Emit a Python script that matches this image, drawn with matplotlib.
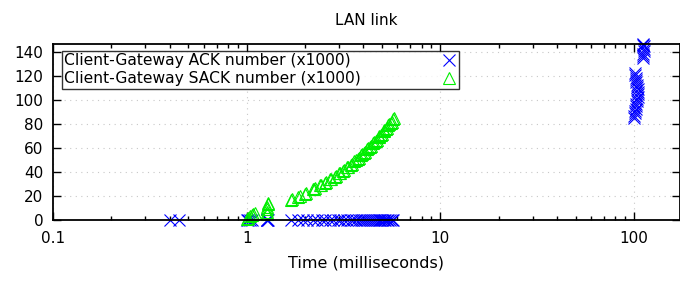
# -*- coding: utf-8 -*-

# LAN link: ACK / SACK numbers vs time (log x)

import numpy as np
import matplotlib
matplotlib.use("Agg")
import matplotlib.pyplot as plt
from matplotlib.ticker import LogLocator, FixedLocator, NullFormatter

# ACK numbers (x1000) vs time (ms)
ack_t = [0.40, 0.45, 1.00, 1.02, 1.04, 1.06, 1.27, 1.275, 1.28, 1.29,
         1.70, 1.85, 1.95, 2.05, 2.2, 2.3, 2.45, 2.55, 2.7, 2.8, 2.95,
         3.05, 3.2, 3.3, 3.45, 3.55, 3.65, 3.8, 3.9, 4.0, 4.1, 4.2, 4.3,
         4.4, 4.5, 4.6, 4.7, 4.8, 4.9, 5.0, 5.1, 5.2, 5.3, 5.4, 5.5, 5.6, 5.7,
         100, 100.5, 101, 101.5, 102, 102.5, 103, 103.5, 104, 104.5,
         105, 105, 104.5, 104, 103.5, 103, 102.5, 102, 101.5, 101,
         111, 111.5, 112, 112.5, 113, 112.5, 112, 111.5]
ack_v = [0, 0, 0, 0, 0, 0, 0, 0, 0, 0,
         0, 0, 0, 0, 0, 0, 0, 0, 0, 0, 0,
         0, 0, 0, 0, 0, 0, 0, 0, 0, 0, 0, 0,
         0, 0, 0, 0, 0, 0, 0, 0, 0, 0, 0, 0, 0, 0,
         85, 87, 89, 91, 93, 95, 97, 99, 101, 103,
         105, 107, 109, 111, 113, 115, 117, 119, 121, 123,
         135, 137, 139, 141, 143, 145, 147, 146]

# SACK numbers (x1000) vs time (ms)
sack_t = [1.00, 1.02, 1.04, 1.06, 1.08, 1.10,
          1.27, 1.27, 1.28, 1.28, 1.29, 1.29,
          1.70, 1.72, 1.85, 1.88, 2.0, 2.02, 2.2, 2.22, 2.25, 2.4, 2.42,
          2.55, 2.58, 2.7, 2.72, 2.85, 2.88, 3.0, 3.03, 3.15, 3.2, 3.3, 3.35,
          3.45, 3.5, 3.6, 3.65, 3.75, 3.8, 3.9, 3.95, 4.05, 4.1, 4.2, 4.25,
          4.35, 4.4, 4.5, 4.55, 4.65, 4.7, 4.8, 4.85, 4.95, 5.0, 5.1, 5.15,
          5.25, 5.3, 5.4, 5.45, 5.55, 5.6, 5.7, 5.75]
sack_v = [1, 2, 3, 4, 5, 6,
          5, 7, 9, 11, 13, 14,
          17, 17.5, 19.5, 20, 22, 22.5, 25.5, 26, 27, 29, 29.5,
          31, 32, 34, 34, 36, 37, 39, 39.5, 41, 42, 44, 44.5,
          46, 47, 49, 50, 51, 52, 54, 55, 56, 57, 59, 60,
          61, 62, 64, 65, 66, 67, 69, 70, 71, 72, 74, 75,
          76, 77, 79, 80, 81, 82, 84, 85]

y_ticks = [0, 20, 40, 60, 80, 100, 120, 140]
x_ticks = [0.1, 1, 10, 100]
x_labels = ["0.1", "1", "10", "100"]

plt.rcParams['font.family'] = ['DejaVu Sans']

fig = plt.figure(figsize=(6.8, 2.82), dpi=100)
ax = fig.add_axes([53 / 680, 62 / 282, 627 / 680, 176 / 282])

ax.plot(ack_t, ack_v, linestyle='none', marker='x', color='#0000ff',
        markersize=8, markeredgewidth=0.8, clip_on=False,
        label='Client-Gateway ACK number (x1000)')
ax.plot(sack_t, sack_v, linestyle='none', marker='^', color='#00ee00',
        markerfacecolor='none', markersize=8.5, markeredgewidth=0.8,
        clip_on=False, label='Client-Gateway SACK number (x1000)')

ax.set_xscale('log')
ax.set_xlim(0.1, 173)
ax.set_ylim(0, 147)
ax.xaxis.set_major_locator(FixedLocator(x_ticks))
ax.set_xticklabels(x_labels)
ax.xaxis.set_minor_locator(LogLocator(base=10, subs=np.arange(2, 10)))
ax.xaxis.set_minor_formatter(NullFormatter())
ax.set_yticks(y_ticks)

ax.tick_params(which='both', direction='in', top=True, right=True,
               labelsize=11, colors='black')
ax.tick_params(which='major', length=5.5, width=1)
ax.tick_params(which='minor', length=3, width=1)
ax.tick_params(axis='x', pad=8)
ax.tick_params(axis='y', pad=7)

ax.grid(True, which='major', color='#c8c8c8', linestyle=(0, (1, 4)),
        linewidth=0.8)
for s in ax.spines.values():
    s.set_linewidth(1.3)

ax.set_xlabel('Time (milliseconds)', fontsize=11.5, labelpad=7)
ax.set_title('LAN link', fontsize=11, pad=14)

leg = ax.legend(loc='upper left', bbox_to_anchor=(9 / 627, 1 - 7 / 176),
                markerfirst=False, frameon=True, fancybox=False,
                fontsize=11.2, handlelength=1.0, handletextpad=5.0,
                borderpad=0.15, borderaxespad=0, labelspacing=0.2,
                numpoints=1)
leg.get_frame().set_edgecolor('black')
leg.get_frame().set_linewidth(1.0)

# left-align legend labels while keeping markers in a right-hand column,
# and stretch the box to the reference width
fig.canvas.draw()
r = fig.canvas.get_renderer()
ws = [t.get_window_extent(r).width for t in leg.get_texts()]
box_w = leg.get_window_extent(r).width
extra = (397 - box_w) * 72 / fig.dpi
for col in leg._legend_handle_box.get_children():
    col.align = 'left'
    for row, w in zip(col.get_children(), ws):
        row.sep += (max(ws) - w) * 72 / fig.dpi + extra

fig.savefig('out.png', dpi=100)
